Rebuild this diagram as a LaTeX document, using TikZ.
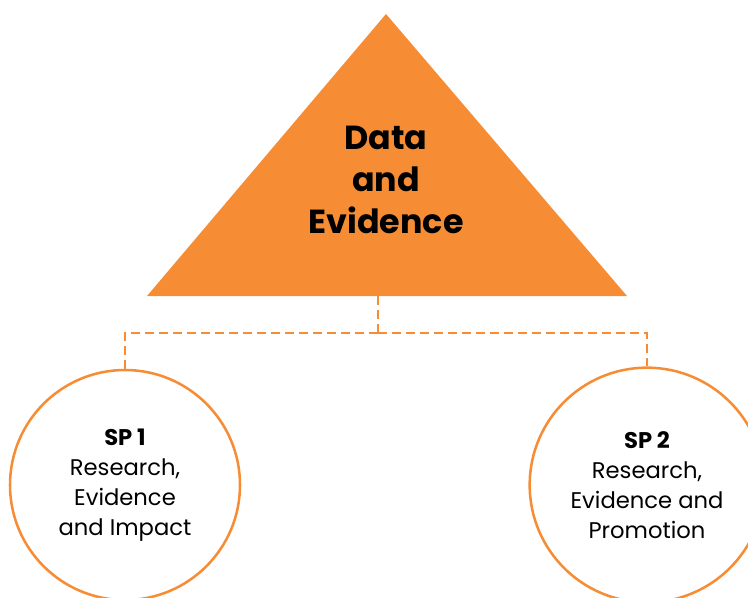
\documentclass[tikz,border=0pt]{standalone}
\usepackage{fontspec}
\setmainfont{Poppins}
\usepackage{tikz}
\usepackage{xcolor}

\definecolor{spOrange}{HTML}{F68D35}

\begin{document}
\begin{tikzpicture}[x=0.75pt,y=0.75pt,yscale=-1,xscale=1,
    spcircle/.style={draw=spOrange,line width=1.9pt,circle,minimum size=#1,inner sep=0pt,align=center,font=\fontsize{17}{22.5}\selectfont},
    link/.style={draw=spOrange,line width=1.4pt,dash pattern=on 7pt off 3.5pt}]
    \useasboundingbox (0,0) rectangle (748,598);

    %Triangle
    \fill[spOrange] (147,296) -- (386,14) -- (627,296) -- cycle ;
    \coordinate (stem) at (378,296) ;
    \coordinate (split) at (378,333) ;

    % Text Node
    \node (title) at (386,180) [align=center,font=\fontsize{25}{31.5}\selectfont\bfseries] {Data\\and\\Evidence};

    % Circles
    \node (sp1) at (125,485) [spcircle=172.5pt] {\textbf{SP 1}\\Research,\\Evidence\\and Impact};
    \node (sp2) at (647,485) [spcircle=176pt] {\textbf{SP 2}\\Research,\\Evidence and\\Promotion};

    %Dashed connectors
    \draw[link] (stem) -- (split) ;
    \draw[link] (split) -| (sp1.north) ;
    \draw[link] (split) -| (sp2.north) ;

\end{tikzpicture}
\end{document}
